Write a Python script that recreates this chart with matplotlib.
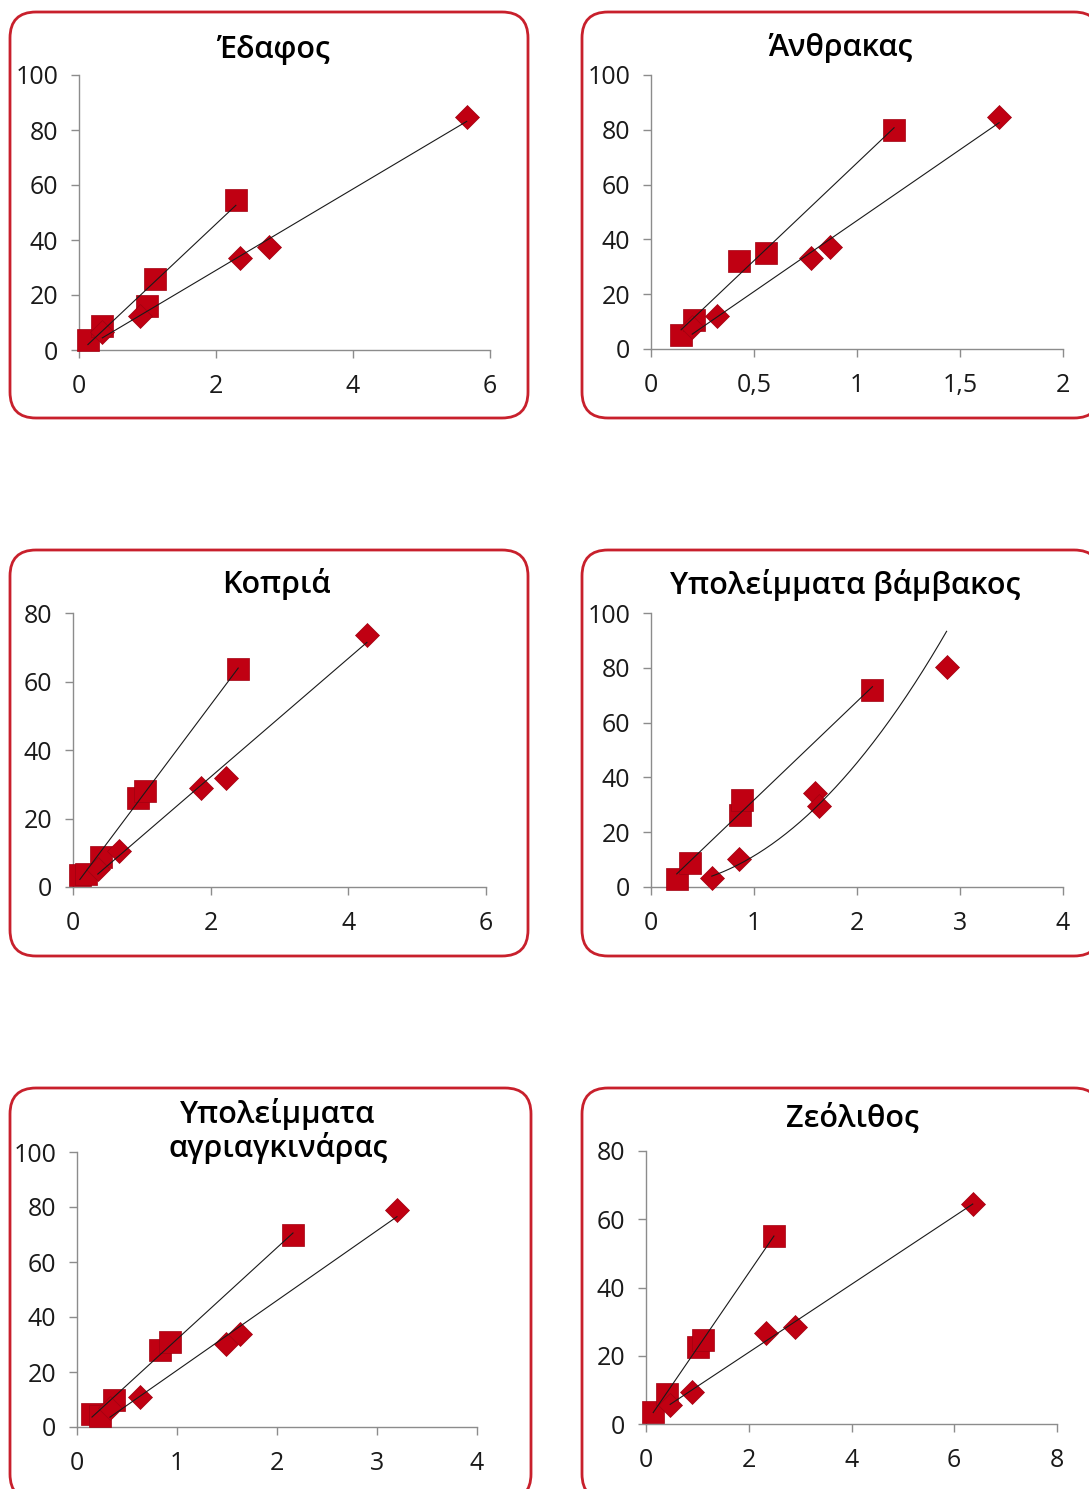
import numpy as np
import matplotlib
matplotlib.use("Agg")
import matplotlib.pyplot as plt
from matplotlib.patches import FancyBboxPatch

plt.rcParams['font.family'] = ['Open Sans', 'DejaVu Sans']

# δεδομένα ανά υπόστρωμα (τετράγωνα / ρόμβοι)
titles = ['Έδαφος', 'Άνθρακας', 'Κοπριά', 'Υπολείμματα βάμβακος',
          'Υπολείμματα\nαγριαγκινάρας', 'Ζεόλιθος']

edafos_sq_x = [0.13, 0.34, 0.99, 1.11, 2.29]
edafos_sq_y = [3.6, 8.7, 16.0, 25.8, 54.5]
edafos_di_x = [0.34, 0.89, 2.35, 2.77, 5.66]
edafos_di_y = [6.5, 12.4, 33.5, 37.5, 84.7]

anthrakas_sq_x = [0.146, 0.209, 0.427, 0.558, 1.18]
anthrakas_sq_y = [5.1, 10.6, 32.0, 35.0, 80.0]
anthrakas_di_x = [0.20, 0.32, 0.777, 0.87, 1.69]
anthrakas_di_y = [8.0, 12.0, 33.2, 37.2, 84.7]

kopria_sq_x = [0.10, 0.19, 0.41, 0.94, 1.05, 2.40]
kopria_sq_y = [3.5, 3.8, 8.8, 26.0, 28.0, 63.6]
kopria_di_x = [0.36, 0.67, 1.86, 2.22, 4.27]
kopria_di_y = [5.2, 10.5, 28.9, 31.8, 73.6]

vamvakos_sq_x = [0.25, 0.38, 0.865, 0.88, 2.15]
vamvakos_sq_y = [2.9, 8.8, 26.3, 31.8, 71.9]
vamvakos_di_x = [0.59, 0.855, 1.59, 1.63, 2.87]
vamvakos_di_y = [3.2, 10.1, 34.3, 29.7, 80.4]

agriag_sq_x = [0.15, 0.23, 0.365, 0.83, 0.93, 2.16]
agriag_sq_y = [4.9, 4.0, 9.7, 27.9, 30.9, 69.7]
agriag_di_x = [0.33, 0.625, 1.49, 1.63, 3.20]
agriag_di_y = [6.8, 10.9, 30.3, 34.0, 78.8]

zeolithos_sq_x = [0.14, 0.40, 1.02, 1.10, 2.49]
zeolithos_sq_y = [3.6, 8.8, 22.6, 24.6, 55.1]
zeolithos_di_x = [0.47, 0.89, 2.33, 2.90, 6.36]
zeolithos_di_y = [5.6, 9.3, 26.8, 28.3, 64.4]

xticks = [[0, 2, 4, 6], [0, 0.5, 1, 1.5, 2], [0, 2, 4, 6],
          [0, 1, 2, 3, 4], [0, 1, 2, 3, 4], [0, 2, 4, 6, 8]]
xticklabels = [['0', '2', '4', '6'], ['0', '0,5', '1', '1,5', '2'],
               ['0', '2', '4', '6'], ['0', '1', '2', '3', '4'],
               ['0', '1', '2', '3', '4'], ['0', '2', '4', '6', '8']]
ymax = [100, 100, 80, 100, 100, 80]

series = [
    (edafos_sq_x, edafos_sq_y, edafos_di_x, edafos_di_y),
    (anthrakas_sq_x, anthrakas_sq_y, anthrakas_di_x, anthrakas_di_y),
    (kopria_sq_x, kopria_sq_y, kopria_di_x, kopria_di_y),
    (vamvakos_sq_x, vamvakos_sq_y, vamvakos_di_x, vamvakos_di_y),
    (agriag_sq_x, agriag_sq_y, agriag_di_x, agriag_di_y),
    (zeolithos_sq_x, zeolithos_sq_y, zeolithos_di_x, zeolithos_di_y),
]
# είδος γραμμής τάσης: 'lin' ή 'pow' (τετράγωνα, ρόμβοι)
trend = [('lin', 'lin'), ('lin', 'lin'), ('lin', 'lin'),
         ('lin', 'pow'), ('lin', 'lin'), ('lin', 'lin')]

W, H = 1089, 1489
fig = plt.figure(figsize=(W / 100, H / 100), dpi=100)

# θέσεις σε pixel: (αριστερά, πάνω, δεξιά, κάτω)
plot_px = [(79, 75, 490, 350), (651, 75, 1063, 349), (73, 613, 486, 887),
           (651, 613, 1063, 887), (77, 1152, 477, 1427), (646, 1151, 1057, 1424)]
frame_px = [(10, 12, 528, 418), (582, 12, 1100, 418), (10, 550, 528, 956),
            (582, 550, 1100, 956), (10, 1088, 531, 1500), (582, 1088, 1100, 1500)]
title_px = [(273, 50), (840, 48), (276, 584), (845, 585), (278, 1131), (852, 1118)]

red = '#c00012'


def fit_line(x, y, kind):
    x = np.asarray(x)
    y = np.asarray(y)
    xs = np.linspace(x.min(), x.max(), 200)
    if kind == 'pow':
        b, a = np.polyfit(np.log(x), np.log(y), 1)
        return xs, np.exp(a) * xs ** b
    k, c = np.polyfit(x, y, 1)
    return xs, k * xs + c


for i in range(6):
    l, t, r, b = frame_px[i]
    box = FancyBboxPatch((l, H - b), r - l, b - t,
                         boxstyle="round,pad=0,rounding_size=26",
                         transform=None, facecolor='white',
                         edgecolor='#c8202c', linewidth=2.0, zorder=0)
    fig.add_artist(box)

    l, t, r, b = plot_px[i]
    ax = fig.add_axes([l / W, 1 - b / H, (r - l) / W, (b - t) / H])
    ax.patch.set_alpha(0)
    sx, sy, dx, dy = series[i]

    for xx, yy, kind in ((sx, sy, trend[i][0]), (dx, dy, trend[i][1])):
        fx, fy = fit_line(xx, yy, kind)
        ax.plot(fx, fy, color='#1a1a1a', lw=0.8, zorder=4)
    ax.plot(sx, sy, 's', color=red, ms=16, mec='#a00010', mew=0.5,
            zorder=3, clip_on=False)
    ax.plot(dx, dy, 'D', color=red, ms=12, mec='#a00010', mew=0.5,
            zorder=3, clip_on=False)

    ax.set_xlim(xticks[i][0], xticks[i][-1])
    ax.set_ylim(0, ymax[i])
    ax.set_xticks(xticks[i])
    ax.set_xticklabels(xticklabels[i])
    ax.set_yticks(np.arange(0, ymax[i] + 1, 20))
    for s in ('top', 'right'):
        ax.spines[s].set_visible(False)
    for s in ('left', 'bottom'):
        ax.spines[s].set_color('#8c8c8c')
        ax.spines[s].set_linewidth(1.0)
    ax.tick_params(axis='both', direction='out', length=6, width=1,
                   color='#8c8c8c', labelsize=18, labelcolor='#1a1a1a')
    ax.tick_params(axis='x', pad=11)
    ax.tick_params(axis='y', pad=9)

    tx, ty = title_px[i]
    fig.text(tx / W, 1 - ty / H, titles[i], ha='center', va='center',
             fontsize=22, fontweight='semibold', color='black', linespacing=1.05)

fig.savefig('out.png', dpi=100)
